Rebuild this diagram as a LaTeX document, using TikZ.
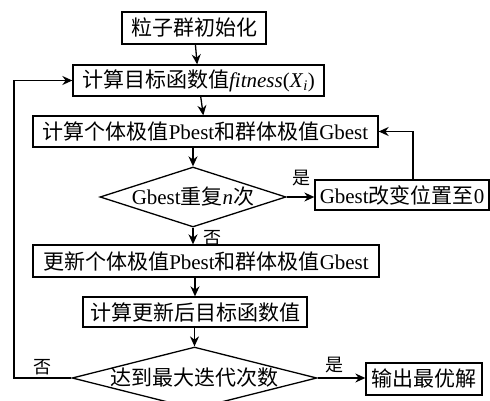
\documentclass[tikz,border=0pt]{standalone}
\usepackage{fontspec}
\setmainfont{Liberation Serif}
\newfontfamily\cjk{Noto Sans CJK SC}
\usetikzlibrary{shapes.geometric,arrows.meta}
\tikzset{
  box/.style={draw, line width=1.3pt, inner sep=0pt, minimum height=31pt, font=\fontsize{21}{24}\selectfont},
  dec/.style={draw, diamond, line width=1.3pt, inner sep=0pt, font=\fontsize{21}{24}\selectfont},
  flow/.style={line width=1.3pt, -{Stealth[length=10pt,width=9pt]}},
  lbl/.style={font=\cjk\fontsize{18}{20}\selectfont, inner sep=0pt}
}
\begin{document}
\begin{tikzpicture}[x=1pt,y=-1pt]
\useasboundingbox (0,0) rectangle (490,401);
\clip (0,0) rectangle (490,401);
\node[box, minimum width=144pt, minimum height=32pt] (b1) at (194,28) {\cjk 粒子群初始化};
\node[box, minimum width=251pt] (b2) at (198.5,80.5) {{\cjk 计算目标函数值}\textit{fitness}(\textit{X}\textsubscript{\textit{i}})};
\node[box, minimum width=345pt] (b3) at (205.5,131.5) {{\cjk 计算个体极值}Pbest{\cjk 和群体极值}Gbest};
\node[dec, minimum width=186pt, minimum height=60pt, aspect=3.1] (d1) at (193,197) {Gbest{\cjk 重复}\textit{n}{\cjk 次}};
\node[box, minimum width=174pt, minimum height=30pt] (b4) at (402,195) {Gbest{\cjk 改变位置至}0};
\node[box, minimum width=346pt, minimum height=32pt] (b5) at (206,261) {{\cjk 更新个体极值}Pbest{\cjk 和群体极值}Gbest};
\node[box, minimum width=224pt, minimum height=30pt] (b6) at (195,312) {\cjk 计算更新后目标函数值};
\node[dec, minimum width=237pt, minimum height=60pt, aspect=3.95] (d2) at (194.5,378) {\cjk 达到最大迭代次数};
\node[box, minimum width=116pt, minimum height=32pt] (b7) at (424,379) {\cjk 输出最优解};
\coordinate (l1) at (14,378);
\coordinate (l2) at (14,80.5);
\coordinate (r1) at (413,131.5);
\draw[flow] (b1) -- (b2);
\draw[flow] (b2) -- (b3);
\draw[flow] (b3.south -| d1.north) -- (d1.north);
\draw[flow] (d1) -- (b5.north -| d1.south);
\draw[flow] (b5.south -| b6.north) -- (b6);
\draw[flow] (b6.south -| d2.north) -- (d2.north);
\draw[flow] (d1.east) -- (b4.west |- d1.east);
\draw[flow] (b4.north -| r1) -- (r1) -- (b3.east);
\draw[flow] (d2.west) -- (l1) -- (l2) -- (b2.west);
\draw[flow] (d2.east) -- (b7.west |- d2.east);
\node[lbl] (y1) at (301,178) {是};
\node[lbl] (n1) at (212,238) {否};
\node[lbl] (n2) at (43,367) {否};
\node[lbl] (y2) at (334,365) {是};
\end{tikzpicture}
\end{document}
